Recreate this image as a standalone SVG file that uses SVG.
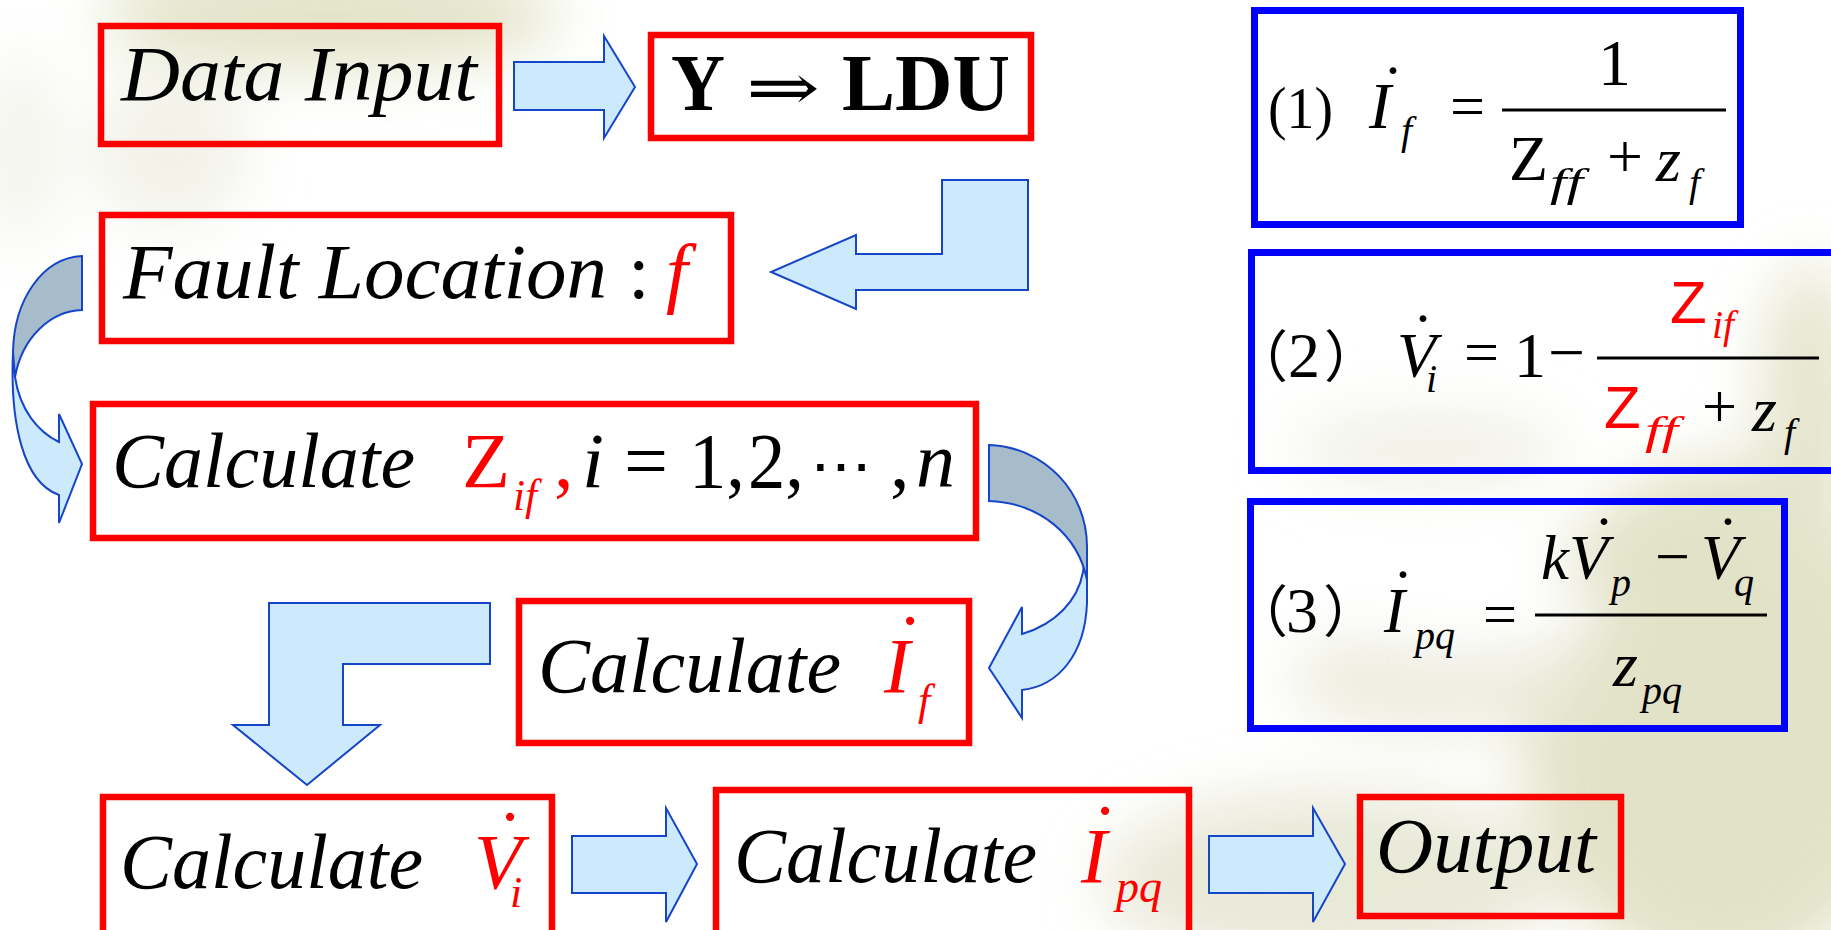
<svg xmlns="http://www.w3.org/2000/svg" width="1831" height="930" viewBox="0 0 1831 930">
<defs>
<filter id="blur" x="-50%" y="-50%" width="200%" height="200%"><feGaussianBlur stdDeviation="30"/></filter>
</defs>
<rect width="1831" height="930" fill="#ffffff"/>
<g id="background" filter="url(#blur)" opacity="0.75">
<ellipse cx="330" cy="15" rx="230" ry="55" fill="#d9dab6"/>
<ellipse cx="170" cy="150" rx="80" ry="80" fill="#eeeee2"/>
<ellipse cx="20" cy="150" rx="40" ry="100" fill="#f0f0e6"/>
<ellipse cx="1720" cy="720" rx="200" ry="260" fill="#d9d9b6"/>
<ellipse cx="1330" cy="880" rx="230" ry="90" fill="#e2e2cc"/>
<ellipse cx="1810" cy="420" rx="50" ry="160" fill="#dcdcbc"/>
<ellipse cx="1430" cy="450" rx="140" ry="40" fill="#ececdf"/>
<ellipse cx="1440" cy="680" rx="150" ry="50" fill="#e4e4cf"/>
<ellipse cx="1470" cy="610" rx="130" ry="45" fill="#ffffff"/>
</g>

<g id="connectors" fill="#cdeafc" stroke="#1545c8" stroke-width="2">
<polygon points="514,62 604,62 604,36 635,87 604,138 604,110 514,110"/>
<polygon points="1028,180 942,180 942,254 856,254 856,235 771,272 856,309 856,290 1028,290"/>
<path d="M13,352 C10,420 22,482 59,495 L59,523 L82,464 L59,414 L59,442 C38,432 20,410 15,377 Z"/>
<path fill="#a7bccb" d="M82,256 C42,258 14,300 13,352 L15,377 C22,338 50,311 82,310 Z"/>
<path d="M1087,545 L1087,603 C1085,655 1058,686 1022,690 L1022,718 L989,668 L1022,607 L1022,634 C1056,624 1078,600 1083,572 Z"/>
<path fill="#a7bccb" d="M989,445 C1045,447 1087,492 1087,547 L1087,580 C1078,535 1040,503 989,501 Z"/>
<polygon points="269,603 490,603 490,664 343,664 343,725 380,725 307,785 233,725 269,725"/>
<polygon points="572,836 666,836 666,808 697,864 666,922 666,893 572,893"/>
<polygon points="1209,836 1313,836 1313,808 1345,864 1313,922 1313,893 1209,893"/>
</g>

<g id="node-data-input">
<rect x="101" y="26" width="398" height="118" fill="none" stroke="#ff0000" stroke-width="6.5"/>
<text x="121" y="100" font-family="Liberation Serif, 'Times New Roman', Tinos, 'Noto Serif', 'DejaVu Serif', serif" font-style="italic" font-size="78" textLength="356" lengthAdjust="spacingAndGlyphs">Data Input</text>
</g>

<g id="node-ldu">
<rect x="651" y="35" width="380" height="103" fill="none" stroke="#ff0000" stroke-width="6.5"/>
<text x="671" y="110" font-family="Liberation Serif, 'Times New Roman', Tinos, 'Noto Serif', 'DejaVu Serif', serif" font-size="80" font-weight="bold"><tspan textLength="54" lengthAdjust="spacingAndGlyphs">Y</tspan><tspan x="746" font-family="DejaVu Serif" font-weight="normal" font-size="66" textLength="74" lengthAdjust="spacingAndGlyphs">⇒</tspan><tspan x="842" textLength="168" lengthAdjust="spacingAndGlyphs">LDU</tspan></text>
</g>

<g id="node-fault">
<rect x="102" y="215" width="629" height="126" fill="none" stroke="#ff0000" stroke-width="6.5"/>
<text x="123" y="298" font-family="Liberation Serif, 'Times New Roman', Tinos, 'Noto Serif', 'DejaVu Serif', serif" font-style="italic" font-size="78"><tspan textLength="484" lengthAdjust="spacingAndGlyphs">Fault Location</tspan><tspan x="628" font-style="normal">:</tspan><tspan x="666" fill="#ff0000">f</tspan></text>
</g>

<g id="node-calc-z" font-family="Liberation Serif, 'Times New Roman', Tinos, 'Noto Serif', 'DejaVu Serif', serif">
<rect x="93" y="404" width="883" height="134" fill="none" stroke="#ff0000" stroke-width="6.5"/>
<text x="112" y="487" font-family="Liberation Serif, 'Times New Roman', Tinos, 'Noto Serif', 'DejaVu Serif', serif" font-style="italic" font-size="78" textLength="303" lengthAdjust="spacingAndGlyphs">Calculate</text>
<text x="462" y="487" font-family="Liberation Serif, 'Times New Roman', Tinos, 'Noto Serif', 'DejaVu Serif', serif" font-size="78" fill="#ff0000" textLength="48" lengthAdjust="spacingAndGlyphs">Z</text>
<text x="513" y="510" font-family="Liberation Serif, 'Times New Roman', Tinos, 'Noto Serif', 'DejaVu Serif', serif" font-style="italic" font-size="44" fill="#ff0000" textLength="24" lengthAdjust="spacingAndGlyphs">if</text>
<text x="554" y="487" font-family="Liberation Serif, 'Times New Roman', Tinos, 'Noto Serif', 'DejaVu Serif', serif" font-size="78" fill="#ff0000">,</text>
<text x="582" y="487" font-family="Liberation Serif, 'Times New Roman', Tinos, 'Noto Serif', 'DejaVu Serif', serif" font-style="italic" font-size="78" textLength="22" lengthAdjust="spacingAndGlyphs">i</text>
<text x="624" y="487" font-family="Liberation Serif, 'Times New Roman', Tinos, 'Noto Serif', 'DejaVu Serif', serif" font-size="78" textLength="44" lengthAdjust="spacingAndGlyphs">=</text>
<text x="689" y="487" font-family="Liberation Serif, 'Times New Roman', Tinos, 'Noto Serif', 'DejaVu Serif', serif" font-size="78" textLength="56" lengthAdjust="spacingAndGlyphs">1,</text>
<text x="748" y="487" font-family="Liberation Serif, 'Times New Roman', Tinos, 'Noto Serif', 'DejaVu Serif', serif" font-size="78" textLength="56" lengthAdjust="spacingAndGlyphs">2,</text>
<text x="810" y="487" font-family="DejaVu Serif" font-size="60" textLength="62" lengthAdjust="spacingAndGlyphs">⋯</text>
<text x="890" y="487" font-family="Liberation Serif, 'Times New Roman', Tinos, 'Noto Serif', 'DejaVu Serif', serif" font-size="78">,</text>
<text x="916" y="487" font-family="Liberation Serif, 'Times New Roman', Tinos, 'Noto Serif', 'DejaVu Serif', serif" font-style="italic" font-size="78" textLength="39" lengthAdjust="spacingAndGlyphs">n</text>
</g>

<g id="node-calc-if">
<rect x="519" y="601" width="450" height="142" fill="none" stroke="#ff0000" stroke-width="6.5"/>
<text x="538" y="692" font-family="Liberation Serif, 'Times New Roman', Tinos, 'Noto Serif', 'DejaVu Serif', serif" font-style="italic" font-size="78" textLength="303" lengthAdjust="spacingAndGlyphs">Calculate</text>
<text x="884" y="692" font-family="Liberation Serif, 'Times New Roman', Tinos, 'Noto Serif', 'DejaVu Serif', serif" font-style="italic" font-size="78" fill="#ff0000" textLength="26" lengthAdjust="spacingAndGlyphs">I</text>
<text x="910" y="669" font-family="Liberation Serif, 'Times New Roman', Tinos, 'Noto Serif', 'DejaVu Serif', serif" font-size="78" text-anchor="middle" fill="#ff0000">˙</text>
<text x="918" y="715" font-family="Liberation Serif, 'Times New Roman', Tinos, 'Noto Serif', 'DejaVu Serif', serif" font-style="italic" font-size="44" fill="#ff0000">f</text>
</g>

<g id="node-calc-vi">
<rect x="103" y="797" width="449" height="150" fill="none" stroke="#ff0000" stroke-width="6.5"/>
<text x="120" y="888" font-family="Liberation Serif, 'Times New Roman', Tinos, 'Noto Serif', 'DejaVu Serif', serif" font-style="italic" font-size="78" textLength="303" lengthAdjust="spacingAndGlyphs">Calculate</text>
<text x="474" y="888" font-family="Liberation Serif, 'Times New Roman', Tinos, 'Noto Serif', 'DejaVu Serif', serif" font-style="italic" font-size="78" fill="#ff0000" textLength="48" lengthAdjust="spacingAndGlyphs">V</text>
<text x="510" y="865" font-family="Liberation Serif, 'Times New Roman', Tinos, 'Noto Serif', 'DejaVu Serif', serif" font-size="78" text-anchor="middle" fill="#ff0000">˙</text>
<text x="510" y="907" font-family="Liberation Serif, 'Times New Roman', Tinos, 'Noto Serif', 'DejaVu Serif', serif" font-style="italic" font-size="44" fill="#ff0000">i</text>
</g>

<g id="node-calc-ipq">
<rect x="716" y="790" width="473" height="157" fill="none" stroke="#ff0000" stroke-width="6.5"/>
<text x="734" y="882" font-family="Liberation Serif, 'Times New Roman', Tinos, 'Noto Serif', 'DejaVu Serif', serif" font-style="italic" font-size="78" textLength="303" lengthAdjust="spacingAndGlyphs">Calculate</text>
<text x="1081" y="882" font-family="Liberation Serif, 'Times New Roman', Tinos, 'Noto Serif', 'DejaVu Serif', serif" font-style="italic" font-size="78" fill="#ff0000" textLength="26" lengthAdjust="spacingAndGlyphs">I</text>
<text x="1105" y="859" font-family="Liberation Serif, 'Times New Roman', Tinos, 'Noto Serif', 'DejaVu Serif', serif" font-size="78" text-anchor="middle" fill="#ff0000">˙</text>
<text x="1116" y="902" font-family="Liberation Serif, 'Times New Roman', Tinos, 'Noto Serif', 'DejaVu Serif', serif" font-style="italic" font-size="46" fill="#ff0000" textLength="46" lengthAdjust="spacingAndGlyphs">pq</text>
</g>

<g id="node-output">
<rect x="1360" y="797" width="261" height="119" fill="none" stroke="#ff0000" stroke-width="6.5"/>
<text x="1376" y="872" font-family="Liberation Serif, 'Times New Roman', Tinos, 'Noto Serif', 'DejaVu Serif', serif" font-style="italic" font-size="78" textLength="220" lengthAdjust="spacingAndGlyphs">Output</text>
</g>

<g id="formula-1">
<rect x="1254.5" y="10.5" width="486" height="214" fill="none" stroke="#0000ff" stroke-width="7"/>
<text x="1268" y="128" font-family="Liberation Serif, 'Times New Roman', Tinos, 'Noto Serif', 'DejaVu Serif', serif" font-size="60" textLength="65" lengthAdjust="spacingAndGlyphs">(1)</text>
<text x="1369" y="128" font-family="Liberation Serif, 'Times New Roman', Tinos, 'Noto Serif', 'DejaVu Serif', serif" font-style="italic" font-size="66" textLength="22" lengthAdjust="spacingAndGlyphs">I</text>
<text x="1393" y="109" font-family="Liberation Serif, 'Times New Roman', Tinos, 'Noto Serif', 'DejaVu Serif', serif" font-size="64" text-anchor="middle">˙</text>
<text x="1401" y="144" font-family="Liberation Serif, 'Times New Roman', Tinos, 'Noto Serif', 'DejaVu Serif', serif" font-style="italic" font-size="40">f</text>
<text x="1450" y="127" font-family="Liberation Serif, 'Times New Roman', Tinos, 'Noto Serif', 'DejaVu Serif', serif" font-size="62" textLength="35" lengthAdjust="spacingAndGlyphs">=</text>
<line x1="1502" y1="110" x2="1726" y2="110" stroke="#000" stroke-width="3"/>
<text x="1598" y="85" font-family="Liberation Serif, 'Times New Roman', Tinos, 'Noto Serif', 'DejaVu Serif', serif" font-size="66" textLength="33" lengthAdjust="spacingAndGlyphs">1</text>
<text x="1509" y="180" font-family="Liberation Serif, 'Times New Roman', Tinos, 'Noto Serif', 'DejaVu Serif', serif" font-size="64" textLength="39" lengthAdjust="spacingAndGlyphs">Z</text>
<text x="1550" y="196" font-family="Liberation Serif, 'Times New Roman', Tinos, 'Noto Serif', 'DejaVu Serif', serif" font-style="italic" font-size="40" textLength="33" lengthAdjust="spacingAndGlyphs">ff</text>
<text x="1607" y="177" font-family="Liberation Serif, 'Times New Roman', Tinos, 'Noto Serif', 'DejaVu Serif', serif" font-size="62" textLength="36" lengthAdjust="spacingAndGlyphs">+</text>
<text x="1656" y="181" font-family="Liberation Serif, 'Times New Roman', Tinos, 'Noto Serif', 'DejaVu Serif', serif" font-style="italic" font-size="64" textLength="25" lengthAdjust="spacingAndGlyphs">z</text>
<text x="1689" y="196" font-family="Liberation Serif, 'Times New Roman', Tinos, 'Noto Serif', 'DejaVu Serif', serif" font-style="italic" font-size="40">f</text>
</g>

<g id="formula-2">
<rect x="1251.5" y="252.5" width="620" height="218" fill="none" stroke="#0000ff" stroke-width="7"/>
<text x="1232" y="377" font-family="Noto Sans CJK SC" font-size="56">（</text>
<text x="1288" y="377" font-family="Liberation Serif, 'Times New Roman', Tinos, 'Noto Serif', 'DejaVu Serif', serif" font-size="64" textLength="32" lengthAdjust="spacingAndGlyphs">2</text>
<text x="1324" y="377" font-family="Noto Sans CJK SC" font-size="56">）</text>
<text x="1397" y="377" font-family="Liberation Serif, 'Times New Roman', Tinos, 'Noto Serif', 'DejaVu Serif', serif" font-style="italic" font-size="64" textLength="39" lengthAdjust="spacingAndGlyphs">V</text>
<text x="1423" y="357" font-family="Liberation Serif, 'Times New Roman', Tinos, 'Noto Serif', 'DejaVu Serif', serif" font-size="64" text-anchor="middle">˙</text>
<text x="1426" y="392" font-family="Liberation Serif, 'Times New Roman', Tinos, 'Noto Serif', 'DejaVu Serif', serif" font-style="italic" font-size="40">i</text>
<text x="1464" y="373" font-family="Liberation Serif, 'Times New Roman', Tinos, 'Noto Serif', 'DejaVu Serif', serif" font-size="62" textLength="35" lengthAdjust="spacingAndGlyphs">=</text>
<text x="1514" y="377" font-family="Liberation Serif, 'Times New Roman', Tinos, 'Noto Serif', 'DejaVu Serif', serif" font-size="64" textLength="32" lengthAdjust="spacingAndGlyphs">1</text>
<text x="1548" y="374" font-family="Liberation Serif, 'Times New Roman', Tinos, 'Noto Serif', 'DejaVu Serif', serif" font-size="64" textLength="37" lengthAdjust="spacingAndGlyphs">−</text>
<line x1="1597" y1="358" x2="1819" y2="358" stroke="#000" stroke-width="3"/>
<text x="1670" y="323" font-family="Liberation Sans" font-size="60" fill="#ff0000">Z</text>
<text x="1712" y="338" font-family="Liberation Serif, 'Times New Roman', Tinos, 'Noto Serif', 'DejaVu Serif', serif" font-style="italic" font-size="40" fill="#ff0000" textLength="22" lengthAdjust="spacingAndGlyphs">if</text>
<text x="1604" y="428" font-family="Liberation Sans" font-size="60" fill="#ff0000">Z</text>
<text x="1645" y="444" font-family="Liberation Serif, 'Times New Roman', Tinos, 'Noto Serif', 'DejaVu Serif', serif" font-style="italic" font-size="40" fill="#ff0000" textLength="33" lengthAdjust="spacingAndGlyphs">ff</text>
<text x="1702" y="427" font-family="Liberation Serif, 'Times New Roman', Tinos, 'Noto Serif', 'DejaVu Serif', serif" font-size="62" textLength="35" lengthAdjust="spacingAndGlyphs">+</text>
<text x="1752" y="431" font-family="Liberation Serif, 'Times New Roman', Tinos, 'Noto Serif', 'DejaVu Serif', serif" font-style="italic" font-size="64" textLength="25" lengthAdjust="spacingAndGlyphs">z</text>
<text x="1784" y="446" font-family="Liberation Serif, 'Times New Roman', Tinos, 'Noto Serif', 'DejaVu Serif', serif" font-style="italic" font-size="40">f</text>
</g>

<g id="formula-3">
<rect x="1250.5" y="501.5" width="534" height="227" fill="none" stroke="#0000ff" stroke-width="7"/>
<text x="1232" y="632" font-family="Noto Sans CJK SC" font-size="56">（</text>
<text x="1286" y="632" font-family="Liberation Serif, 'Times New Roman', Tinos, 'Noto Serif', 'DejaVu Serif', serif" font-size="64" textLength="32" lengthAdjust="spacingAndGlyphs">3</text>
<text x="1323" y="632" font-family="Noto Sans CJK SC" font-size="56">）</text>
<text x="1384" y="632" font-family="Liberation Serif, 'Times New Roman', Tinos, 'Noto Serif', 'DejaVu Serif', serif" font-style="italic" font-size="64" textLength="21" lengthAdjust="spacingAndGlyphs">I</text>
<text x="1403" y="613" font-family="Liberation Serif, 'Times New Roman', Tinos, 'Noto Serif', 'DejaVu Serif', serif" font-size="64" text-anchor="middle">˙</text>
<text x="1415" y="649" font-family="Liberation Serif, 'Times New Roman', Tinos, 'Noto Serif', 'DejaVu Serif', serif" font-style="italic" font-size="40" textLength="40" lengthAdjust="spacingAndGlyphs">pq</text>
<text x="1483" y="635" font-family="Liberation Serif, 'Times New Roman', Tinos, 'Noto Serif', 'DejaVu Serif', serif" font-size="62" textLength="34" lengthAdjust="spacingAndGlyphs">=</text>
<line x1="1535" y1="615" x2="1767" y2="615" stroke="#000" stroke-width="3"/>
<text x="1541" y="579" font-family="Liberation Serif, 'Times New Roman', Tinos, 'Noto Serif', 'DejaVu Serif', serif" font-style="italic" font-size="64" textLength="28" lengthAdjust="spacingAndGlyphs">k</text>
<text x="1569" y="579" font-family="Liberation Serif, 'Times New Roman', Tinos, 'Noto Serif', 'DejaVu Serif', serif" font-style="italic" font-size="64" textLength="39" lengthAdjust="spacingAndGlyphs">V</text>
<text x="1604" y="560" font-family="Liberation Serif, 'Times New Roman', Tinos, 'Noto Serif', 'DejaVu Serif', serif" font-size="64" text-anchor="middle">˙</text>
<text x="1611" y="596" font-family="Liberation Serif, 'Times New Roman', Tinos, 'Noto Serif', 'DejaVu Serif', serif" font-style="italic" font-size="40" textLength="20" lengthAdjust="spacingAndGlyphs">p</text>
<text x="1655" y="578" font-family="Liberation Serif, 'Times New Roman', Tinos, 'Noto Serif', 'DejaVu Serif', serif" font-size="64" textLength="35" lengthAdjust="spacingAndGlyphs">−</text>
<text x="1701" y="579" font-family="Liberation Serif, 'Times New Roman', Tinos, 'Noto Serif', 'DejaVu Serif', serif" font-style="italic" font-size="64" textLength="39" lengthAdjust="spacingAndGlyphs">V</text>
<text x="1728" y="560" font-family="Liberation Serif, 'Times New Roman', Tinos, 'Noto Serif', 'DejaVu Serif', serif" font-size="64" text-anchor="middle">˙</text>
<text x="1734" y="596" font-family="Liberation Serif, 'Times New Roman', Tinos, 'Noto Serif', 'DejaVu Serif', serif" font-style="italic" font-size="40" textLength="20" lengthAdjust="spacingAndGlyphs">q</text>
<text x="1613" y="686" font-family="Liberation Serif, 'Times New Roman', Tinos, 'Noto Serif', 'DejaVu Serif', serif" font-style="italic" font-size="64" textLength="25" lengthAdjust="spacingAndGlyphs">z</text>
<text x="1642" y="704" font-family="Liberation Serif, 'Times New Roman', Tinos, 'Noto Serif', 'DejaVu Serif', serif" font-style="italic" font-size="40" textLength="40" lengthAdjust="spacingAndGlyphs">pq</text>
</g>
</svg>
